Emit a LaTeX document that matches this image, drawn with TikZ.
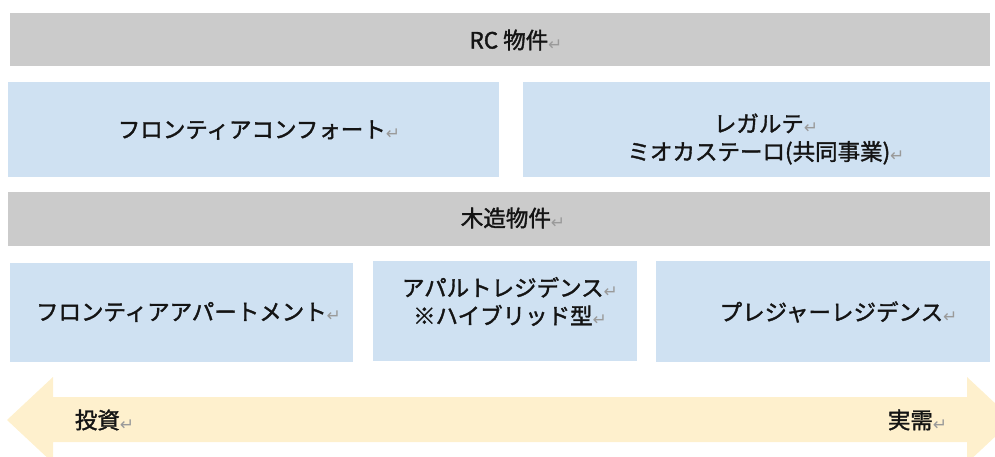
\documentclass[tikz,border=0pt]{standalone}
\usepackage{fontspec}
\newfontfamily\jpf[FakeBold=1.6]{Noto Sans CJK JP}
\newfontfamily\symfont{DejaVu Sans}
\definecolor{bargray}{HTML}{CBCBCB}
\definecolor{boxblue}{HTML}{CFE1F2}
\definecolor{arrowyellow}{HTML}{FEF0CD}
\definecolor{txt}{HTML}{141414}
\definecolor{retgray}{HTML}{9A9A9A}
\newcommand{\ret}{{\symfont\fontsize{17}{17}\selectfont\raisebox{-1.5pt}{\textcolor{retgray}{↵}}}}
\begin{document}
\begin{tikzpicture}[x=1pt,y=-1pt,
  panel/.style={draw=none,inner sep=0,outer sep=0},
  lbl/.style={inner sep=0,text=txt,font=\jpf\fontsize{22.5}{28}\selectfont,align=center}]
\useasboundingbox (0,0) rectangle (995,457);
\clip (0,0) rectangle (995,457);
% bars and boxes
\path[fill=bargray] (10,13) rectangle (990,66);
\path[fill=boxblue] (8,82) rectangle (499,177);
\path[fill=boxblue] (523,82) rectangle (990,177);
\path[fill=bargray] (8,192) rectangle (990,246);
\path[fill=boxblue] (10,263) rectangle (353,362);
\path[fill=boxblue] (373,261) rectangle (637,361);
\path[fill=boxblue] (656,261) rectangle (990,362);
% double arrow
\path[fill=arrowyellow] (7,420) -- (53,377) -- (53,397) -- (967,397) -- (967,377)
  -- (1013,420) -- (967,463) -- (967,442) -- (53,442) -- (53,463) -- cycle;
% texts
\node[lbl] (t1) at (516,40) {RC 物件\ret};
\node[lbl] (t2) at (259,130) {フロンティアコンフォート\ret};
\node[lbl] (t3) at (766,139) {レガルテ\ret\\ミオカステーロ(共同事業)\ret};
\node[lbl] (t4) at (513,218) {木造物件\ret};
\node[lbl] (t5) at (188.5,312) {フロンティアアパートメント\ret};
\node[lbl] (t6) at (510,301.5) {アパルトレジデンス\ret\\※ハイブリッド型\ret};
\node[lbl] (t7) at (838.5,312) {プレジャーレジデンス\ret};
\node[lbl] (t8) at (104.5,420) {投資\ret};
\node[lbl] (t9) at (917.5,420) {実需\ret};
\end{tikzpicture}
\end{document}
